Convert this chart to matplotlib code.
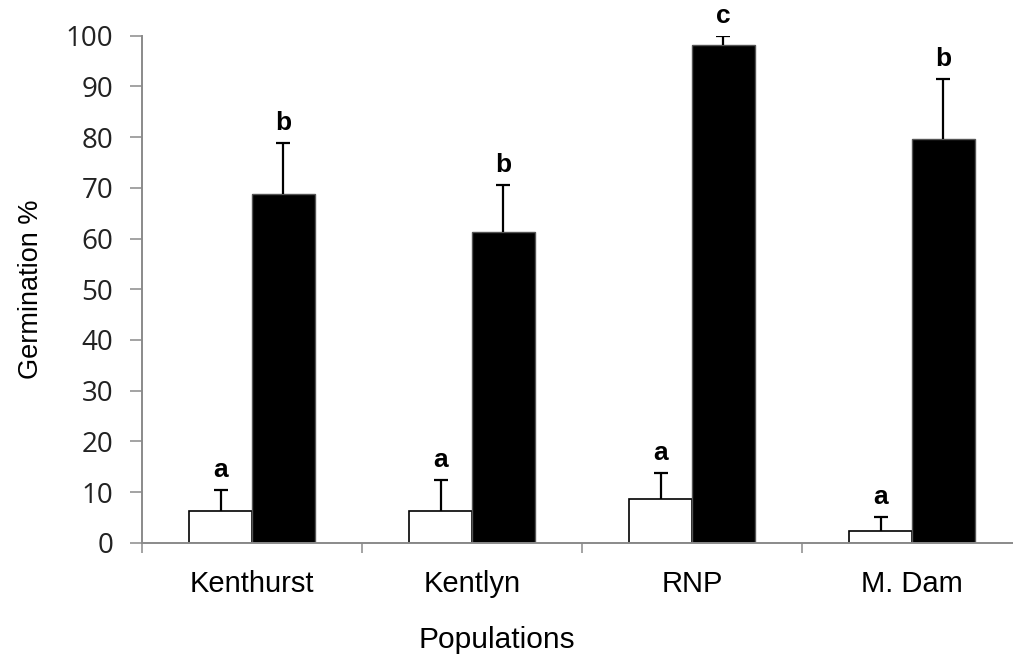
"""Germination % by population, two treatments with SE bars."""

import matplotlib

matplotlib.use("Agg")
import matplotlib.pyplot as plt
import numpy as np

populations = ["Kenthurst", "Kentlyn", "RNP", "M. Dam"]
control = [6.3, 6.3, 8.7, 2.4]
control_err = [4.1, 6.1, 5.0, 2.6]
treated = [68.8, 61.2, 98.2, 79.6]
treated_err = [10.0, 9.3, 1.7, 11.8]
control_letters = ["a", "a", "a", "a"]
treated_letters = ["b", "b", "c", "b"]

AXIS_GREY = "#8a8a8a"

fig = plt.figure(figsize=(10.13, 6.58), dpi=100)
ax = fig.add_axes([142 / 1013, 0.1752, 880 / 1013, 0.7705])

x = np.arange(len(populations)) + 0.5
width = 0.285
offset = 0.143

err_kw = dict(ecolor="black", elinewidth=1.6, capsize=5, capthick=1.6)
b1 = ax.bar(x - offset, control, width, color="white", edgecolor="black", linewidth=1.2,
            yerr=[np.zeros(len(control)), control_err], error_kw=err_kw, zorder=2)
b2 = ax.bar(x + offset, treated, width, color="black", edgecolor="#555555", linewidth=1.0,
            yerr=[np.zeros(len(treated)), treated_err], error_kw=err_kw, zorder=2)
# only upper error bars: hide the lower caps
for bars in (b1, b2):
    caps = bars.errorbar.lines[1]
    caps[0].set_visible(False)

for xs, vals, errs, labs in ((x - offset, control, control_err, control_letters),
                             (x + offset, treated, treated_err, treated_letters)):
    for xi, v, e, lab in zip(xs, vals, errs, labs):
        ax.annotate(lab, (xi, v + e), xytext=(0, 6), textcoords="offset points",
                    ha="center", va="bottom", fontsize=19, fontweight="bold",
                    family="Liberation Sans")

ax.set_xlim(0, 4)
ax.set_ylim(0, 100)
ax.set_yticks(range(0, 101, 10))
ax.set_xticks(x)
ax.set_xticklabels(populations, family="Liberation Sans", fontsize=21)
ax.set_xticks(np.arange(0, 5), minor=True)

for lbl in ax.get_yticklabels():
    lbl.set_family("Open Sans")
    lbl.set_fontsize(20)
    lbl.set_color("#222222")

ax.tick_params(axis="y", direction="out", length=8.6, width=1.1, color=AXIS_GREY, pad=12)
ax.tick_params(axis="x", which="major", length=0, pad=20)
ax.tick_params(axis="x", which="minor", direction="out", length=7, width=1.1, color=AXIS_GREY)

for side in ("top", "right"):
    ax.spines[side].set_visible(False)
for side in ("left", "bottom"):
    ax.spines[side].set_color(AXIS_GREY)
    ax.spines[side].set_linewidth(1.4)

ax.set_ylabel("Germination %", family="Liberation Sans", fontsize=19.5, labelpad=16)
fig.text(497 / 1013, 1 - 640 / 658, "Populations", family="Liberation Sans",
         fontsize=21.5, ha="center", va="center")

fig.savefig("out.png", dpi=100)
plt.close(fig)
